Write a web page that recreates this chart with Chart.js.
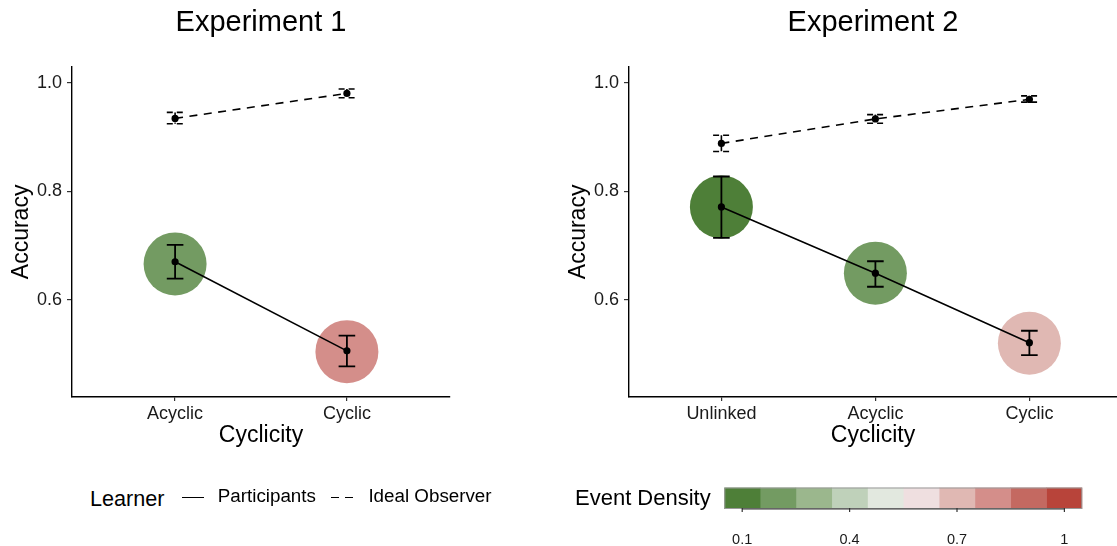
<!DOCTYPE html>
<html><head><meta charset="utf-8">
<script src="https://cdn.jsdelivr.net/npm/chart.js@4.4.1/dist/chart.umd.min.js"></script>
<style>
html,body{margin:0;padding:0;background:#fff;width:1117px;height:546px;overflow:hidden;font-family:"Liberation Sans",Arial,sans-serif;}
canvas{position:absolute;}
#c1{left:0;top:0;}
#c2{left:557px;top:0;}
#c3{left:560px;top:470px;}
.lg{position:absolute;white-space:nowrap;line-height:1;color:#000;}
.ln{position:absolute;height:0;border-top:1.6px solid #000;}
</style></head><body>
<canvas id="c1" width="460" height="460"></canvas>
<canvas id="c2" width="560" height="460"></canvas>
<canvas id="c3" width="557" height="76"></canvas>
<div class="lg" style="left:90px;top:487.7px;font-size:21.6px">Learner</div>
<div class="ln" style="left:182px;top:496.5px;width:22px"></div>
<div class="lg" style="left:217.8px;top:487.4px;font-size:18.8px">Participants</div>
<div class="ln" style="left:331px;top:496.5px;width:8px"></div>
<div class="ln" style="left:345px;top:496.5px;width:8px"></div>
<div class="lg" style="left:368.4px;top:487.4px;font-size:18.8px">Ideal Observer</div>
<div class="lg" style="left:575px;top:486.7px;font-size:22px">Event Density</div>
<script>
// ---------- data ----------
const exp1Categories = ['Acyclic', 'Cyclic'];
const exp1PartMean = [0.670, 0.506];
const exp1PartLo = [0.639, 0.4775];
const exp1PartHi = [0.701, 0.534];
const exp1IdealMean = [0.934, 0.980];
const exp1IdealLo = [0.924, 0.972];
const exp1IdealHi = [0.945, 0.988];
const exp1CircleY = [0.666, 0.5045];
const exp1Density = [0.2, 0.8];

const exp2Categories = ['Unlinked', 'Acyclic', 'Cyclic'];
const exp2PartMean = [0.771, 0.649, 0.521];
const exp2PartLo = [0.714, 0.624, 0.498];
const exp2PartHi = [0.827, 0.671, 0.543];
const exp2IdealMean = [0.888, 0.933, 0.969];
const exp2IdealLo = [0.873, 0.925, 0.964];
const exp2IdealHi = [0.903, 0.941, 0.9755];
const exp2CircleY = [0.771, 0.649, 0.520];
const exp2Density = [0.1, 0.2, 0.7];

const yTicks = [0.6, 0.8, 1.0];
const densityBinLo = [0.05, 0.15, 0.25, 0.35, 0.45, 0.55, 0.65, 0.75, 0.85, 0.95];
const densityBinHi = [0.15, 0.25, 0.35, 0.45, 0.55, 0.65, 0.75, 0.85, 0.95, 1.05];
const densityColors = ['#4e7f38', '#739b62', '#9bb78d', '#bfd1ba', '#e2e8df', '#efdfe0', '#e0b8b3', '#d48e8a', '#c46961', '#b8443a'];
const densityTickValues = [0.1, 0.4, 0.7, 1.0];
const densityTickLabels = ['0.1', '0.4', '0.7', '1'];

// ---------- helpers ----------
const FONT = '"Liberation Sans", Arial, sans-serif';
function densityColor(d) {
  for (let i = 0; i < densityBinLo.length; i++) {
    if (d >= densityBinLo[i] && d < densityBinHi[i]) return densityColors[i];
  }
  return densityColors[densityColors.length - 1];
}
function pts(vals) { return vals.map((v, i) => ({x: i + 1, y: v})); }

const errorBarPlugin = {
  id: 'errorBars',
  afterDatasetsDraw(chart, args, opts) {
    const {ctx} = chart;
    const x = chart.scales.x, y = chart.scales.y;
    ctx.save();
    ctx.strokeStyle = '#000';
    (opts.sets || []).forEach(s => {
      ctx.lineWidth = s.width;
      ctx.setLineDash(s.dash || []);
      s.lo.forEach((lo, i) => {
        const px = x.getPixelForValue(i + 1);
        const y1 = y.getPixelForValue(lo), y2 = y.getPixelForValue(s.hi[i]);
        const hw = s.cap;
        ctx.beginPath();
        ctx.moveTo(px, y2); ctx.lineTo(px, y1);
        ctx.stroke();
        ctx.beginPath();
        ctx.moveTo(px - hw, y1); ctx.lineTo(px + hw, y1);
        ctx.moveTo(px - hw, y2); ctx.lineTo(px + hw, y2);
        ctx.stroke();
      });
    });
    ctx.restore();
  }
};

function makePanel(id, title, cats, partMean, partLo, partHi, idealMean, idealLo, idealHi, circleY, density, xMax, padRight) {
  return new Chart(document.getElementById(id), {
    type: 'scatter',
    data: {
      datasets: [
        {
          label: 'Participants', type: 'line', data: pts(partMean), order: 1,
          borderColor: '#000', borderWidth: 1.6, tension: 0,
          pointRadius: 3.6, pointBackgroundColor: '#000', pointBorderWidth: 0
        },
        {
          label: 'Ideal Observer', type: 'line', data: pts(idealMean), order: 2,
          borderColor: '#000', borderWidth: 1.6, borderDash: [8, 6.5], tension: 0,
          pointRadius: 3.6, pointBackgroundColor: '#000', pointBorderWidth: 0
        },
        {
          label: 'Event Density', type: 'scatter', data: pts(circleY), order: 10,
          pointRadius: 31.5, pointBorderWidth: 0,
          pointBackgroundColor: density.map(densityColor)
        }
      ]
    },
    options: {
      responsive: false, animation: false, devicePixelRatio: 1,
      layout: {autoPadding: false, padding: {left: 0, right: padRight, top: 0, bottom: 0}},
      scales: {
        x: {
          type: 'linear', min: 0.4, max: xMax,
          afterBuildTicks: s => { s.ticks = cats.map((c, i) => ({value: i + 1})); },
          afterFit: s => { s.height = 63; s.paddingLeft = 0; s.paddingRight = 0; },
          ticks: {
            callback: v => cats[Math.round(v) - 1],
            font: {family: FONT, size: 18}, color: '#1a1a1a', padding: 2,
            autoSkip: false, maxRotation: 0
          },
          grid: {drawOnChartArea: false, drawTicks: true, tickLength: 4, color: '#333', lineWidth: 1.2},
          border: {display: true, color: '#000', width: 1.4},
          title: {display: true, text: 'Cyclicity', color: '#000', font: {family: FONT, size: 23}, padding: {top: 0, bottom: 11}}
        },
        y: {
          type: 'linear', min: 0.421, max: 1.029,
          afterBuildTicks: s => { s.ticks = yTicks.map(v => ({value: v})); },
          afterFit: s => { s.width = 72; s.paddingTop = 0; s.paddingBottom = 0; },
          ticks: {
            callback: v => Number(v).toFixed(1),
            font: {family: FONT, size: 18}, color: '#1a1a1a', padding: 5
          },
          grid: {drawOnChartArea: false, drawTicks: true, tickLength: 5, color: '#333', lineWidth: 1.2},
          border: {display: true, color: '#000', width: 1.4},
          title: {display: true, text: 'Accuracy', color: '#000', font: {family: FONT, size: 23}, padding: {top: 8, bottom: 0}}
        }
      },
      plugins: {
        legend: {display: false},
        tooltip: {enabled: false},
        title: {
          display: true, text: title, fullSize: false, color: '#000',
          font: {family: FONT, size: 29, weight: 'normal'},
          padding: {top: 6, bottom: 26}
        },
        errorBars: {
          sets: [
            {lo: partLo, hi: partHi, width: 1.8, cap: 8.3, dash: []},
            {lo: idealLo, hi: idealHi, width: 1.6, cap: 8.3, dash: [6, 4]}
          ]
        }
      }
    },
    plugins: [errorBarPlugin]
  });
}

makePanel('c1', 'Experiment 1', exp1Categories, exp1PartMean, exp1PartLo, exp1PartHi,
  exp1IdealMean, exp1IdealLo, exp1IdealHi, exp1CircleY, exp1Density, 2.6, 10);
makePanel('c2', 'Experiment 2', exp2Categories, exp2PartMean, exp2PartLo, exp2PartHi,
  exp2IdealMean, exp2IdealLo, exp2IdealHi, exp2CircleY, exp2Density, 3.569, 0);

// ---------- colour bar legend ----------
const colorbarFrame = {
  id: 'colorbarFrame',
  afterDatasetsDraw(chart) {
    const {ctx, chartArea: a} = chart;
    const x = chart.scales.x;
    ctx.save();
    ctx.strokeStyle = '#9a9a9a'; ctx.lineWidth = 1;
    const l = x.getPixelForValue(densityBinLo[0]), r = x.getPixelForValue(densityBinHi[densityBinHi.length - 1]);
    ctx.strokeRect(l + 0.5, a.top + 0.5, r - l - 1, a.bottom - a.top - 1);
    ctx.strokeStyle = '#333'; ctx.lineWidth = 1.2;
    ctx.beginPath();
    const x0 = x.getPixelForValue(densityTickValues[0]);
    const x1 = x.getPixelForValue(densityTickValues[densityTickValues.length - 1]);
    ctx.moveTo(x0, a.bottom); ctx.lineTo(x1, a.bottom);
    densityTickValues.forEach(v => {
      const px = x.getPixelForValue(v);
      ctx.moveTo(px, a.bottom - 1); ctx.lineTo(px, a.bottom + 3);
    });
    ctx.stroke();
    ctx.restore();
  }
};

new Chart(document.getElementById('c3'), {
  type: 'bar',
  data: {
    labels: [''],
    datasets: densityColors.map((c, i) => ({
      data: [[densityBinLo[i], densityBinHi[i]]],
      backgroundColor: c, borderWidth: 0, grouped: false,
      barPercentage: 1, categoryPercentage: 1
    }))
  },
  options: {
    indexAxis: 'y', responsive: false, animation: false, devicePixelRatio: 1,
    layout: {autoPadding: false, padding: {left: 164.3, right: 34.7, top: 17.5, bottom: 0}},
    scales: {
      x: {
        type: 'linear', min: 0.05, max: 1.05,
        afterBuildTicks: s => { s.ticks = densityTickValues.map(v => ({value: v})); },
        afterFit: s => { s.height = 37; },
        ticks: {
          callback: (v, i) => densityTickLabels[i],
          font: {family: FONT, size: 14.5}, color: '#1a1a1a', padding: 22,
          autoSkip: false, maxRotation: 0
        },
        grid: {display: false, drawTicks: false},
        border: {display: false}
      },
      y: {display: false}
    },
    plugins: {legend: {display: false}, tooltip: {enabled: false}}
  },
  plugins: [colorbarFrame]
});
</script>
</body></html>
